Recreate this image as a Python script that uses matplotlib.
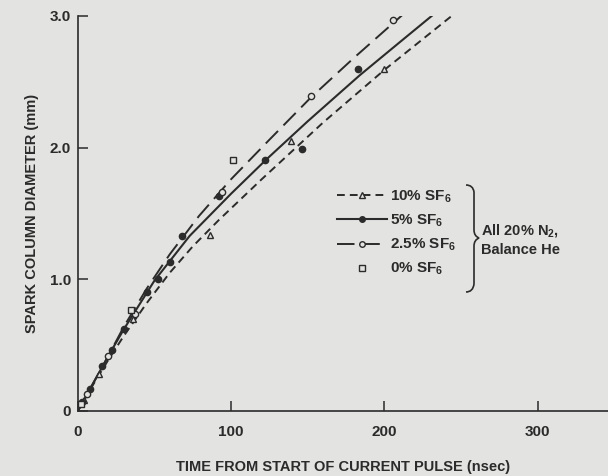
import numpy as np
import matplotlib
matplotlib.use("Agg")
import matplotlib.pyplot as plt
from matplotlib.lines import Line2D
from matplotlib.path import Path
from matplotlib.patches import PathPatch

plt.rcParams['font.family'] = ['Liberation Sans', 'DejaVu Sans']
plt.rcParams['font.weight'] = 'bold'
plt.rcParams['axes.labelweight'] = 'bold'
plt.rcParams['mathtext.fontset'] = 'custom'
plt.rcParams['mathtext.rm'] = 'Liberation Sans:bold'
plt.rcParams['mathtext.it'] = 'Liberation Sans:bold'
plt.rcParams['mathtext.bf'] = 'Liberation Sans:bold'

ink = '#2b2b2b'
bg = '#e3e3e1'

# fitted curves (time nsec, diameter mm)
t_10 = [0, 10, 20, 30, 45, 60, 75, 92, 120, 160, 200, 245]
d_10 = [0, 0.20, 0.39, 0.57, 0.82, 1.05, 1.25, 1.45, 1.76, 2.19, 2.59, 3.01]
t_5 = [0, 10, 20, 30, 50, 73, 100, 123, 150, 184, 210, 233]
d_5 = [0, 0.21, 0.42, 0.62, 0.99, 1.33, 1.65, 1.91, 2.20, 2.55, 2.80, 3.02]
t_25 = [0, 10, 20, 30, 45, 60, 79, 100, 125, 152, 180, 213]
d_25 = [0, 0.21, 0.42, 0.64, 0.93, 1.19, 1.48, 1.76, 2.06, 2.38, 2.68, 3.02]

# measured points
tri_t = [4, 14, 36, 86, 139, 200]
tri_d = [0.08, 0.28, 0.70, 1.34, 2.05, 2.60]
dot_t = [3, 8, 16, 22, 30, 45, 52, 60, 68, 92, 122, 146, 183]
dot_d = [0.07, 0.17, 0.34, 0.46, 0.62, 0.90, 1.00, 1.13, 1.33, 1.63, 1.91, 1.99, 2.60]
circ_t = [6, 20, 37, 94, 152, 206]
circ_d = [0.13, 0.42, 0.74, 1.66, 2.39, 2.97]
sq_t = [2, 35, 101]
sq_d = [0.05, 0.77, 1.91]

labels = ['10% SF$_6$', '5% SF$_6$', '2.5% SF$_6$', '0% SF$_6$']
xticks = [0, 100, 200, 300]
yticks = [0, 1.0, 2.0, 3.0]
yticklabels = ['0', '1.0', '2.0', '3.0']

fig = plt.figure(figsize=(6.08, 4.76), dpi=100, facecolor=bg)
ax = fig.add_axes([0.128, 0.1366, 0.872, 0.8298])
ax.set_facecolor(bg)

short_dash = (0, (4, 2.6))
long_dash = (0, (9, 4))

ax.plot(t_10, d_10, color=ink, lw=1.4, linestyle=short_dash)
ax.plot(t_5, d_5, color=ink, lw=1.5)
ax.plot(t_25, d_25, color=ink, lw=1.4, linestyle=long_dash)

ax.plot(tri_t, tri_d, '^', ms=5, mfc=bg, mec=ink, mew=1.0, ls='none')
ax.plot(dot_t, dot_d, 'o', ms=4.5, mfc=ink, mec=ink, ls='none')
ax.plot(circ_t, circ_d, 'o', ms=4.5, mfc=bg, mec=ink, mew=1.0, ls='none')
ax.plot(sq_t, sq_d, 's', ms=4.5, mfc=bg, mec=ink, mew=1.0, ls='none')

ax.set_xlim(0, 346)
ax.set_ylim(0, 3.0)
ax.set_xticks(xticks)
ax.set_yticks(yticks)
ax.set_yticklabels(yticklabels)
for s in ['top', 'right']:
    ax.spines[s].set_visible(False)
for s in ['left', 'bottom']:
    ax.spines[s].set_color(ink)
    ax.spines[s].set_linewidth(1.2)
ax.tick_params(direction='in', length=7, width=1.1, colors=ink, labelsize=11, pad=5)
ax.tick_params(axis='x', pad=10)

ax.set_xlabel('TIME FROM START OF CURRENT PULSE (nsec)', fontsize=10.5, color=ink, labelpad=15)
ax.set_ylabel('SPARK COLUMN DIAMETER (mm)', fontsize=10.5, color=ink, labelpad=8)

handles = [
    Line2D([], [], color=ink, lw=1.4, linestyle=short_dash, marker='^', ms=5, mfc=bg, mec=ink),
    Line2D([], [], color=ink, lw=1.5, marker='o', ms=4, mfc=ink, mec=ink),
    Line2D([], [], color=ink, lw=1.4, linestyle=long_dash, marker='o', ms=4, mfc=bg, mec=ink),
    Line2D([], [], ls='none', marker='s', ms=4.5, mfc=bg, mec=ink),
]
leg = ax.legend(handles, labels, loc='upper left', bbox_to_anchor=(0.477, 0.578),
                frameon=False, fontsize=11, handlelength=3.3, handletextpad=0.15,
                labelspacing=0.5, borderaxespad=0)
for txt in leg.get_texts():
    txt.set_color(ink)

# brace grouping the legend entries
def px(x, y):
    return (x / 608.0, 1 - y / 476.0)

verts = [px(466, 185), px(473, 185), px(474, 192), px(474, 200),
         px(474, 230), px(474, 236), px(479, 238),
         px(474, 240), px(474, 246), px(474, 254),
         px(474, 284), px(473, 292), px(466, 292)]
codes = [Path.MOVETO, Path.CURVE3, Path.CURVE3, Path.LINETO,
         Path.LINETO, Path.CURVE3, Path.CURVE3,
         Path.CURVE3, Path.CURVE3, Path.LINETO,
         Path.LINETO, Path.CURVE3, Path.CURVE3]
fig.patches.append(PathPatch(Path(verts, codes), transform=fig.transFigure,
                             fill=False, ec=ink, lw=1.2))

fig.text(481 / 608, 1 - 230 / 476, 'All 20% N$_2$,', fontsize=10.5, color=ink, va='center')
fig.text(481 / 608, 1 - 250 / 476, 'Balance He', fontsize=10.5, color=ink, va='center')

fig.savefig('out.png', dpi=100, facecolor=bg)
